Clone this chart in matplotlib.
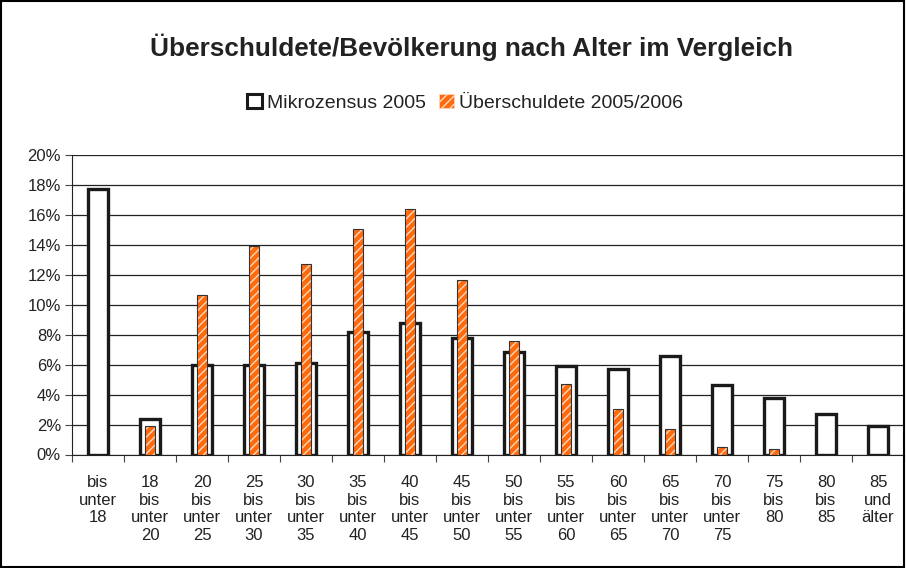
import numpy as np
import matplotlib.pyplot as plt
from matplotlib.patches import Patch, Rectangle

plt.rcParams['font.family'] = ['Liberation Sans', 'DejaVu Sans']
plt.rcParams['hatch.linewidth'] = 1.0
plt.rcParams['text.color'] = '#222222'
plt.rcParams['xtick.color'] = '#222222'
plt.rcParams['ytick.color'] = '#222222'

# Altersgruppen und Anteile in %
gruppen = ["bis\nunter\n18", "18\nbis\nunter\n20", "20\nbis\nunter\n25", "25\nbis\nunter\n30",
           "30\nbis\nunter\n35", "35\nbis\nunter\n40", "40\nbis\nunter\n45", "45\nbis\nunter\n50",
           "50\nbis\nunter\n55", "55\nbis\nunter\n60", "60\nbis\nunter\n65", "65\nbis\nunter\n70",
           "70\nbis\nunter\n75", "75\nbis\n80", "80\nbis\n85", "85\nund\nälter"]
mikrozensus = [17.7, 2.4, 5.95, 5.95, 6.1, 8.15, 8.75, 7.75, 6.85, 5.9, 5.7, 6.55, 4.65, 3.75, 2.7, 1.9]
ueberschuldete = [0.0, 1.9, 10.65, 13.95, 12.7, 15.05, 16.4, 11.65, 7.55, 4.7, 3.05, 1.7, 0.5, 0.4, 0.0, 0.0]
yticks = [0, 2, 4, 6, 8, 10, 12, 14, 16, 18, 20]

orange = '#ff6a0d'
x = np.arange(len(gruppen))

fig = plt.figure(figsize=(9.06, 5.68), dpi=100)
ax = fig.add_axes([72/906, 113.5/568, 832/906, 299.5/568])

# Mikrozensus: weisse Balken mit dicker schwarzer Kante
ax.bar(x, mikrozensus, width=0.4, facecolor='white', edgecolor='#1a1a1a', linewidth=2.4, zorder=2)
# Ueberschuldete: orange, weiss schraffiert
ax.bar(x, ueberschuldete, width=0.19, facecolor=orange, edgecolor='#ffd9bf', hatch='////',
       linewidth=0, zorder=3)
ax.bar(x, ueberschuldete, width=0.19, fill=False, edgecolor='#333333', linewidth=0.8, zorder=4)

ax.set_xlim(-0.5, len(gruppen) - 0.5)
ax.set_ylim(0, 20)
ax.set_yticks(yticks)
ax.set_yticklabels([f"{v}%" for v in yticks], fontsize=12)
ax.yaxis.grid(True, color='#222222', linewidth=0.9)
ax.set_axisbelow(True)

ax.set_xticks(x)
ax.set_xticklabels(gruppen, fontsize=12, va='top', linespacing=1.2)
ax.set_xticks(np.arange(-0.5, len(gruppen)), minor=True)
ax.tick_params(axis='x', which='major', length=0, pad=15)
ax.tick_params(axis='x', which='minor', length=5, width=0.8, color='#444444')
ax.tick_params(axis='y', length=5, width=0.8, color='#444444', pad=3)

for s in ['top', 'right']:
    ax.spines[s].set_visible(False)
ax.spines['left'].set_color('#222222')
ax.spines['bottom'].set_color('#222222')

fig.text(471/906, 1 - 47/568, "Überschuldete/Bevölkerung nach Alter im Vergleich",
         ha='center', va='center', fontsize=18.8, fontweight='bold')

handles = [Patch(facecolor='white', edgecolor='#1a1a1a', linewidth=2.2),
           Patch(facecolor=orange, edgecolor='#ffd9bf', hatch='////', linewidth=0.5)]
fig.legend(handles, ["Mikrozensus 2005", "Überschuldete 2005/2006"], loc='center',
           bbox_to_anchor=(465/906, 1 - 103/568), ncol=2, frameon=False, fontsize=14,
           handlelength=0.75, handleheight=0.75, handletextpad=0.25, columnspacing=0.7)

# Rahmen um die ganze Grafik
fig.patches.append(Rectangle((0.001, 0.001), 0.997, 0.997, transform=fig.transFigure,
                             fill=False, edgecolor='black', linewidth=1.5))

fig.savefig('out.png', dpi=100)
